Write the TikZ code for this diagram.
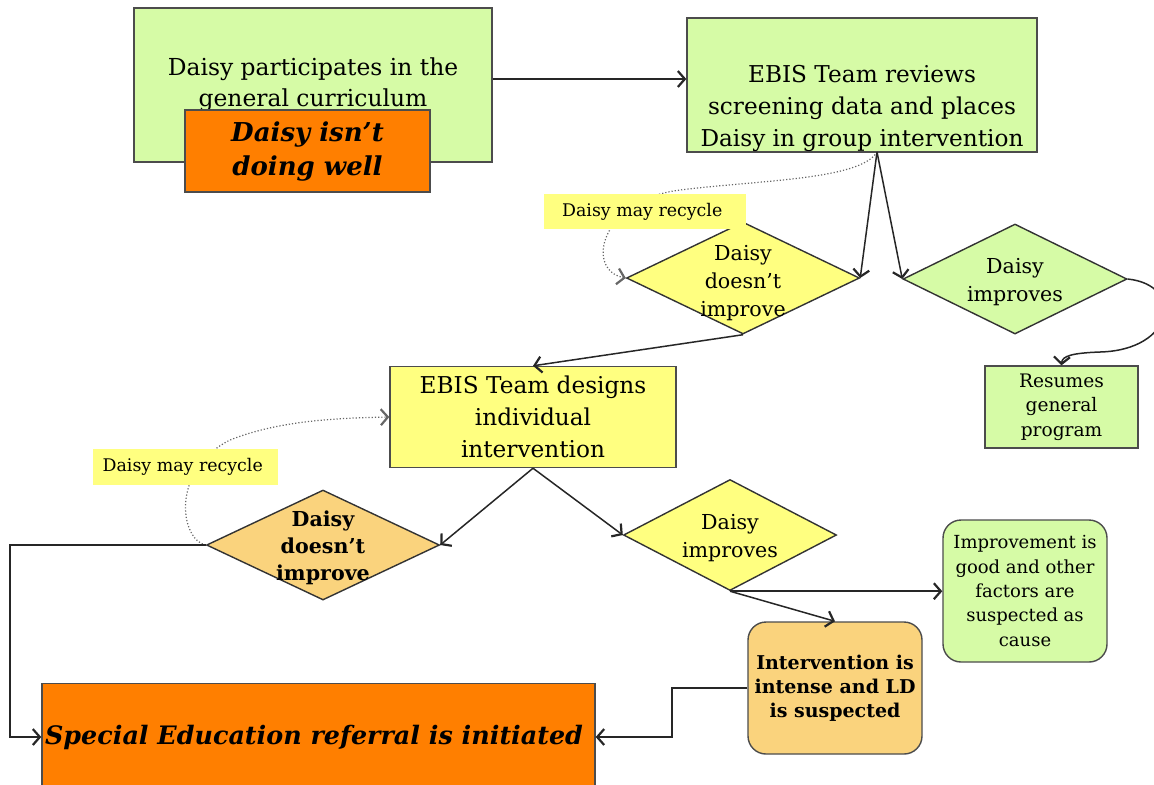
\documentclass[tikz,border=0pt]{standalone}
\usepackage{fontspec}
\setmainfont{DejaVu Serif}
\usetikzlibrary{shapes.geometric, arrows.meta}

\definecolor{lightgreen}{RGB}{214,251,166}
\definecolor{paleyellow}{RGB}{255,255,128}
\definecolor{deeporange}{RGB}{255,127,0}
\definecolor{paleorange}{RGB}{250,211,125}

\tikzset{
    box/.style={draw=black!70, line width=0.7pt, align=center, inner sep=1pt},
    choice/.style={diamond, draw=black!80, line width=0.7pt, inner sep=0pt},
    inside/.style={align=center, font=\fontsize{10.3}{14}\selectfont},
    note/.style={fill=paleyellow, align=center, inner sep=0pt, font=\fontsize{8.7}{11}\selectfont},
    flow/.style={-{Straight Barb[length=3.5pt, width=8pt, line width=1.1pt]}, line width=0.75pt, black!85},
    recycle/.style={-{Straight Barb[length=3.5pt, width=8pt, line width=1.1pt]}, densely dotted, line width=0.6pt, black!60}
}

\begin{document}
\begin{tikzpicture}[x=0.5pt, y=-0.5pt]
            \useasboundingbox (0,0) rectangle (1154,784);

            \node[box, fill=lightgreen, minimum width=179pt, minimum height=77pt, font=\fontsize{11.7}{15.5}\selectfont] (part) at (313, 85) { Daisy participates in the\\ general curriculum };
            \node[box, fill=deeporange, minimum width=122.5pt, minimum height=41pt, font=\fontsize{13}{17}\selectfont\bfseries\itshape] (notwell) at (307.5, 151) { Daisy isn't\\ doing well };
            \node[box, fill=lightgreen, minimum width=175pt, minimum height=67pt] (reviews) at (862, 85) {};
            \node[align=center, font=\fontsize{11.6}{16}\selectfont] (reviewstext) at (862, 108) { EBIS Team reviews\\ screening data and places\\ Daisy in group intervention };
            \coordinate (fork) at (877, 152);

            \node[choice, fill=paleyellow, minimum width=116.5pt, minimum height=56pt,
                label={[inside, yshift=-2.5pt]center:Daisy\\ doesn't\\ improve}] (noimpA) at (743, 278) {};
            \node[choice, fill=lightgreen, minimum width=112pt, minimum height=55pt,
                label={[inside, yshift=-1.5pt]center:Daisy\\ improves}] (impA) at (1015, 279) {};
            \node[box, fill=lightgreen, minimum width=76.5pt, minimum height=41pt, font=\fontsize{9.3}{12.2}\selectfont] (resumes) at (1061.5, 407) { Resumes\\ general\\ program };

            \node[box, fill=paleyellow, minimum width=143pt, minimum height=50.5pt, font=\fontsize{11.6}{16}\selectfont] (designs) at (533, 417) { EBIS Team designs\\ individual\\ intervention };
            \node[choice, fill=paleorange, minimum width=116.5pt, minimum height=55pt,
                label={[inside, font=\fontsize{10.3}{13.5}\selectfont\bfseries, yshift=-1.5pt]center:Daisy\\ doesn't\\ improve}] (noimpB) at (323, 545) {};
            \node[choice, fill=paleyellow, minimum width=106.5pt, minimum height=55.5pt,
                label={[inside, yshift=-1.5pt]center:Daisy\\ improves}] (impB) at (730, 535) {};
            \node[box, rounded corners=9pt, fill=lightgreen, minimum width=82pt, minimum height=71pt, font=\fontsize{9}{12.2}\selectfont] (good) at (1025, 591) { Improvement is\\ good and other\\ factors are\\ suspected as\\ cause };
            \node[box, rounded corners=9pt, fill=paleorange, minimum width=87pt, minimum height=66pt, font=\fontsize{9.5}{12}\selectfont\bfseries] (intense) at (835, 688) { Intervention is\\ intense and LD\\ is suspected };
            \node[box, fill=deeporange, minimum width=276.5pt, minimum height=53.5pt, font=\fontsize{12.7}{16}\selectfont\bfseries\itshape] (referral) at (318.5, 737) { Special Education referral is initiated };

            % recycling loops
            \draw[recycle] (fork) .. controls (860, 180) and (760, 180) .. (680, 190) .. controls (600, 200) and (585, 270) .. (noimpA.west);
            \draw[recycle] (noimpB.west) .. controls (180, 540) and (170, 470) .. (230, 440) .. controls (280, 420) and (340, 418) .. (designs.west);
            \node[note, minimum width=101pt, minimum height=17.5pt] (recycleA) at (645, 211.5) { Daisy may recycle };
            \node[note, minimum width=92.5pt, minimum height=18pt] (recycleB) at (185.5, 467) { Daisy may recycle };

            \draw[flow] ([yshift=3pt]part.east) -- ([yshift=3pt]reviews.west);
            \draw[flow] (fork) -- (noimpA.east);
            \draw[flow] (fork) -- (impA.west);
            \draw[flow] (impA.east) .. controls (1185, 285) and (1175, 350) .. (1100, 352) .. controls (1072, 353) and (1062, 356) .. (resumes.north);
            \draw[flow] (noimpA.south) -- (designs.north);
            \draw[flow] (designs.south) -- (noimpB.east);
            \draw[flow] (designs.south) -- (impB.west);
            \draw[flow] (impB.south) -- (impB.south -| good.west);
            \draw[flow] (impB.south) -- (intense.north);
            \draw[flow] (noimpB.west) -- (10, 545) |- (referral.west);
            \draw[flow] (intense.west) -- (672, 688) |- (referral.east);
        \end{tikzpicture}
\end{document}
